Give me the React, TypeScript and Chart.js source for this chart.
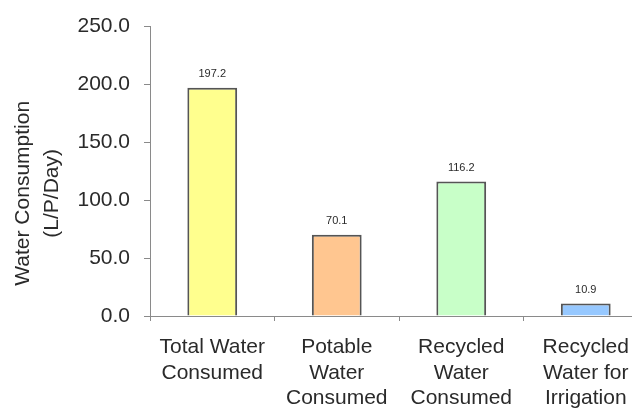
import React, { useEffect, useRef } from "react";
import { Chart, registerables } from "chart.js";

Chart.register(...registerables);

// Per-capita water use by source
const categories: string[][] = [
  ["Total Water", "Consumed"],
  ["Potable", "Water", "Consumed"],
  ["Recycled", "Water", "Consumed"],
  ["Recycled", "Water for", "Irrigation"],
];
const consumption: number[] = [197.2, 70.1, 116.2, 10.9];
const yTitleLines: string[] = ["Water Consumption", "(L/P/Day)"];
const yMin = 0;
const yMax = 250;
const yStep = 50;

const barFills = ["#FFFF8E", "#FFC690", "#C8FFC8", "#96C8FF"];
const FONT = "'Liberation Sans', Arial, sans-serif";
const TEXT = "#2a2a2a";
const AXIS = "#8a8a8a";

const CANVAS_W = 660;
const CANVAS_H = 409;

// Writes each bar's value just above it
const valueLabels = {
  id: "valueLabels",
  afterDatasetsDraw(chart: any) {
    const ctx = chart.ctx;
    const meta = chart.getDatasetMeta(0);
    ctx.save();
    ctx.font = `11px ${FONT}`;
    ctx.fillStyle = TEXT;
    ctx.textAlign = "center";
    ctx.textBaseline = "bottom";
    meta.data.forEach((bar: any, i: number) => {
      ctx.fillText(consumption[i].toFixed(1), bar.x, bar.y - 8);
    });
    ctx.restore();
  },
};

// Two-line rotated y-axis title
const yTitle = {
  id: "yTitle",
  afterDraw(chart: any) {
    const ctx = chart.ctx;
    const area = chart.chartArea;
    const cy = (area.top + area.bottom) / 2 + 22;
    const xs = [23, 52];
    ctx.save();
    ctx.font = `21px ${FONT}`;
    ctx.fillStyle = TEXT;
    ctx.textAlign = "center";
    ctx.textBaseline = "middle";
    yTitleLines.forEach((line, i) => {
      ctx.save();
      ctx.translate(xs[i], cy);
      ctx.rotate(-Math.PI / 2);
      ctx.fillText(line, 0, 0);
      ctx.restore();
    });
    ctx.restore();
  },
};

export default function App() {
  const canvasRef = useRef<HTMLCanvasElement | null>(null);

  useEffect(() => {
    document.body.style.margin = "0";
    document.body.style.overflow = "hidden";
    const canvas = canvasRef.current;
    if (!canvas) return;
    const chart = new Chart(canvas, {
      type: "bar",
      data: {
        labels: categories,
        datasets: [
          {
            data: consumption,
            backgroundColor: barFills,
            borderColor: "#555555",
            borderWidth: 2,
            barPercentage: 0.4,
            categoryPercentage: 1,
          },
        ],
      },
      options: {
        responsive: false,
        animation: false,
        layout: { padding: { top: 24, right: CANVAS_W - 648, left: 0, bottom: 0 } },
        plugins: { legend: { display: false }, tooltip: { enabled: false } },
        scales: {
          x: {
            offset: true,
            grid: {
              offset: true,
              drawOnChartArea: false,
              drawTicks: true,
              tickLength: 5,
              color: AXIS,
            },
            border: { color: AXIS, width: 1 },
            ticks: {
              color: TEXT,
              font: { family: FONT, size: 21, lineHeight: 1.2 },
              padding: 14,
              maxRotation: 0,
              autoSkip: false,
            },
            afterFit: (s: any) => {
              s.height = CANVAS_H - 316;
            },
          },
          y: {
            min: yMin,
            max: yMax,
            grid: {
              drawOnChartArea: false,
              drawTicks: true,
              tickLength: 6,
              color: AXIS,
            },
            border: { color: AXIS, width: 1 },
            ticks: {
              stepSize: yStep,
              color: TEXT,
              font: { family: FONT, size: 21 },
              padding: 14,
              callback: (v: any) => Number(v).toFixed(1),
            },
            afterFit: (s: any) => {
              s.width = 150;
            },
          },
        },
      },
      plugins: [valueLabels, yTitle],
    });
    return () => chart.destroy();
  }, []);

  return (
    <div style={{ width: 632, height: 409, overflow: "hidden", background: "#fff" }}>
      <canvas
        ref={canvasRef}
        width={CANVAS_W}
        height={CANVAS_H}
        style={{ display: "block", width: CANVAS_W, height: CANVAS_H }}
      />
    </div>
  );
}
